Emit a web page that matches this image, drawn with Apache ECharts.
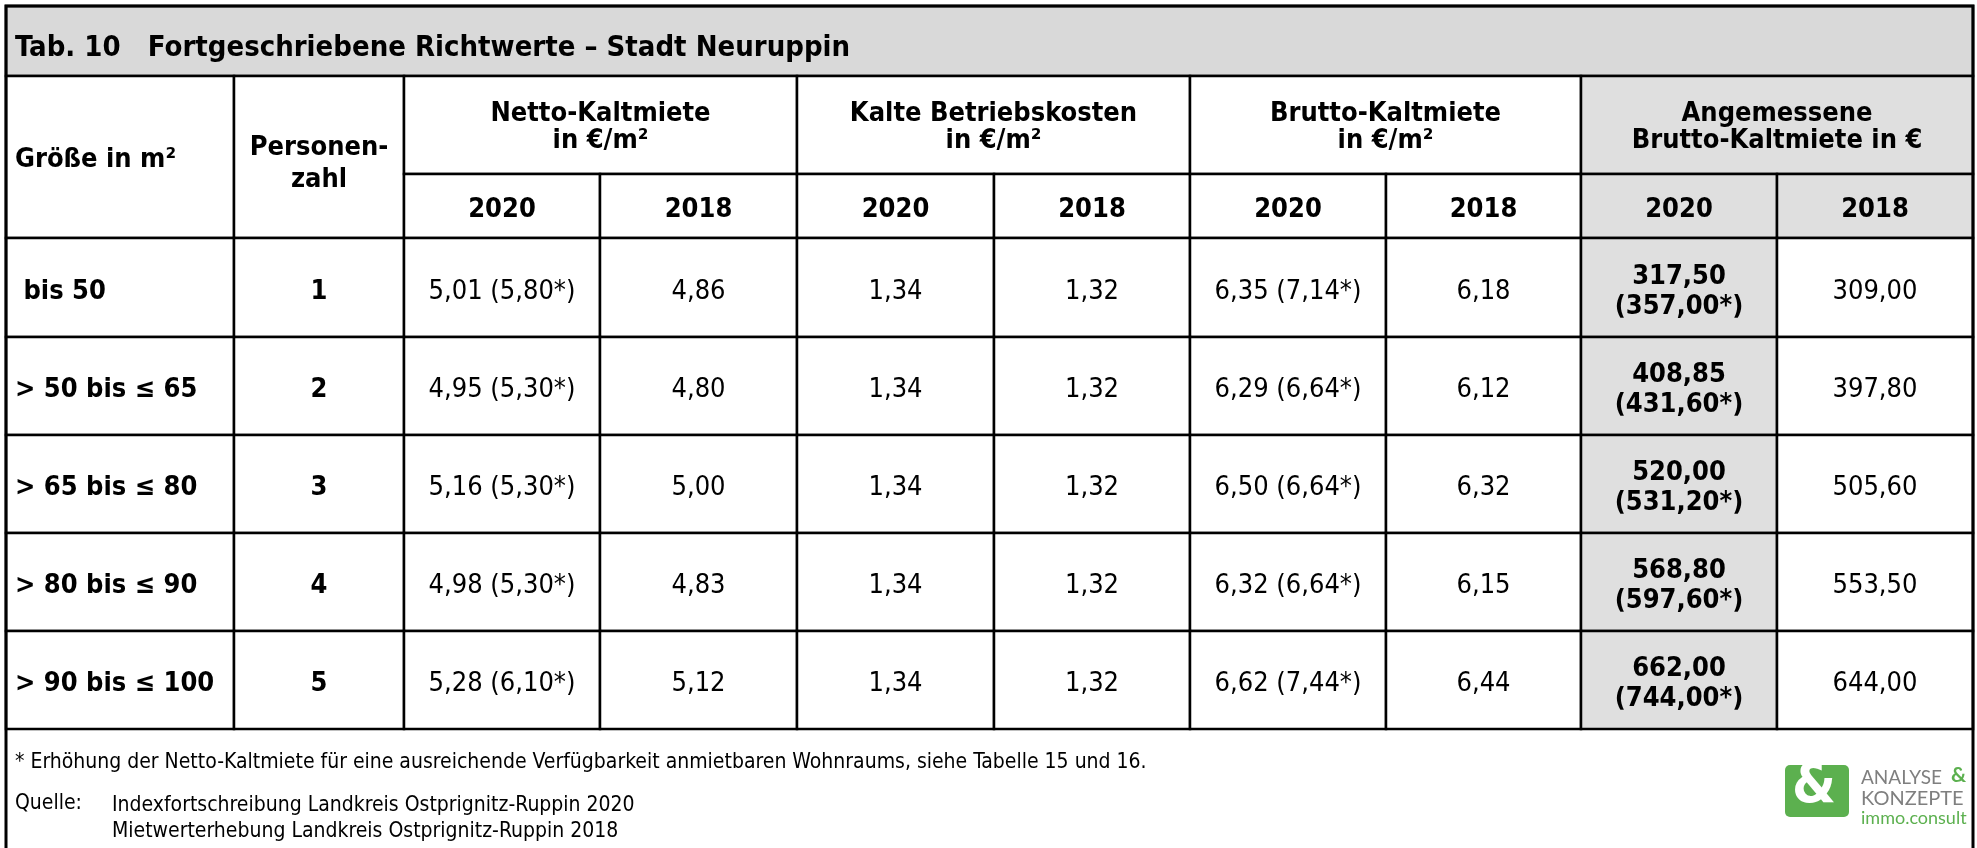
<!DOCTYPE html>
<html>
<head>
<meta charset="utf-8">
<title>Tab. 10 Fortgeschriebene Richtwerte – Stadt Neuruppin</title>
<script src="https://cdn.jsdelivr.net/npm/echarts@6/dist/echarts.min.js"></script>
<style>
    html, body { margin: 0; padding: 0; background: #fff; }
    #main { width: 1977px; height: 848px; }
</style>
</head>
<body>
<div id="main"></div>
<script>
// table content
const title = "Tab. 10   Fortgeschriebene Richtwerte – Stadt Neuruppin";
const groupHeaders = [
    "Netto-Kaltmiete\nin €/m²",
    "Kalte Betriebskosten\nin €/m²",
    "Brutto-Kaltmiete\nin €/m²",
    "Angemessene\nBrutto-Kaltmiete in €",
];
const years = ["2020", "2018"];
const sizeLabels = [" bis 50", "> 50 bis ≤ 65", "> 65 bis ≤ 80", "> 80 bis ≤ 90", "> 90 bis ≤ 100"];
const persons = [1, 2, 3, 4, 5];

const netto2020 = [5.01, 4.95, 5.16, 4.98, 5.28];
const netto2020Raised = [5.80, 5.30, 5.30, 5.30, 6.10];
const netto2018 = [4.86, 4.80, 5.00, 4.83, 5.12];
const betrieb2020 = [1.34, 1.34, 1.34, 1.34, 1.34];
const betrieb2018 = [1.32, 1.32, 1.32, 1.32, 1.32];
const brutto2020 = [6.35, 6.29, 6.50, 6.32, 6.62];
const brutto2020Raised = [7.14, 6.64, 6.64, 6.64, 7.44];
const brutto2018 = [6.18, 6.12, 6.32, 6.15, 6.44];
const angem2020 = [317.50, 408.85, 520.00, 568.80, 662.00];
const angem2020Raised = [357.00, 431.60, 531.20, 597.60, 744.00];
const angem2018 = [309.00, 397.80, 505.60, 553.50, 644.00];

const footnote = "* Erhöhung der Netto-Kaltmiete für eine ausreichende Verfügbarkeit anmietbaren Wohnraums, siehe Tabelle 15 und 16.";
const sourceLabel = "Quelle:";
const sources = [
    "Indexfortschreibung Landkreis Ostprignitz-Ruppin 2020",
    "Mietwerterhebung Landkreis Ostprignitz-Ruppin 2018",
];

// layout (pixel grid of the table)
const colEdges = [6, 234, 404, 600, 797, 994, 1190, 1386, 1581, 1777, 1973];
const rowEdges = [6, 76, 174, 238, 337, 435, 533, 631, 729, 852];
const FONT = '"DejaVu Sans Condensed", "DejaVu Sans", Tahoma, sans-serif';
const LOGO_FONT = "Lato, sans-serif";
const GREY_TITLE = "#d9d9d9";
const GREY_CELL = "#dfdfdf";
const GREEN = "#5cb04f";

const fmt = (v) => v.toFixed(2).replace(".", ",");

const cells = [];
function cell(c0, c1, r0, r1, text, opts) {
    cells.push(Object.assign({
        x0: colEdges[c0], x1: colEdges[c1], y0: rowEdges[r0], y1: rowEdges[r1],
        text: text, bold: false, fill: "#fff", align: "center", size: 27, lh: 30, lw: 2.5, dy: 4,
    }, opts || {}));
}

cell(0, 10, 0, 1, title, { bold: true, fill: GREY_TITLE, align: "left", size: 29, dy: 7 });
cell(0, 1, 1, 3, "Größe in m²", { bold: true, align: "left", dy: 3 });
cell(1, 2, 1, 3, "Personen-\nzahl", { bold: true, lh: 32, dy: 7 });
groupHeaders.forEach((g, i) => {
    const grey = i === 3;
    cell(2 + i * 2, 4 + i * 2, 1, 2, g, { bold: true, lh: 27, dy: 2, fill: grey ? GREY_CELL : "#fff" });
    years.forEach((y, j) => {
        cell(2 + i * 2 + j, 3 + i * 2 + j, 2, 3, y, { bold: true, fill: grey ? GREY_CELL : "#fff" });
    });
});

sizeLabels.forEach((label, i) => {
    const r = 3 + i;
    cell(0, 1, r, r + 1, label, { bold: true, align: "left" });
    cell(1, 2, r, r + 1, String(persons[i]), { bold: true });
    cell(2, 3, r, r + 1, fmt(netto2020[i]) + " (" + fmt(netto2020Raised[i]) + "*)");
    cell(3, 4, r, r + 1, fmt(netto2018[i]));
    cell(4, 5, r, r + 1, fmt(betrieb2020[i]));
    cell(5, 6, r, r + 1, fmt(betrieb2018[i]));
    cell(6, 7, r, r + 1, fmt(brutto2020[i]) + " (" + fmt(brutto2020Raised[i]) + "*)");
    cell(7, 8, r, r + 1, fmt(brutto2018[i]));
    cell(8, 9, r, r + 1, fmt(angem2020[i]) + "\n(" + fmt(angem2020Raised[i]) + "*)", { bold: true, fill: GREY_CELL });
    cell(9, 10, r, r + 1, fmt(angem2018[i]));
});

// outer frame
cell(0, 10, 0, 9, "", { fill: "none", lw: 3 });

const chart = echarts.init(document.getElementById("main"), null, { renderer: "canvas" });

const option = {
    backgroundColor: "#ffffff",
    animation: false,
    grid: { left: 0, right: 0, top: 0, bottom: 0 },
    xAxis: { type: "value", min: 0, max: 1977, show: false },
    yAxis: { type: "value", min: 0, max: 848, inverse: true, show: false },
    series: [
        {
            type: "custom",
            coordinateSystem: "cartesian2d",
            silent: true,
            clip: false,
            data: cells.map((c) => [c.x0, c.y0, c.x1, c.y1]),
            renderItem: function (params, api) {
                const c = cells[params.dataIndex];
                const p0 = api.coord([api.value(0), api.value(1)]);
                const p1 = api.coord([api.value(2), api.value(3)]);
                const children = [
                    {
                        type: "rect",
                        shape: { x: p0[0], y: p0[1], width: p1[0] - p0[0], height: p1[1] - p0[1] },
                        style: { fill: c.fill, stroke: "#000", lineWidth: c.lw },
                    },
                ];
                if (c.text) {
                    children.push({
                        type: "text",
                        style: {
                            text: c.text,
                            x: c.align === "left" ? p0[0] + 9 : (p0[0] + p1[0]) / 2,
                            y: (p0[1] + p1[1]) / 2 + c.dy,
                            align: c.align,
                            verticalAlign: "middle",
                            fontFamily: FONT,
                            fontSize: c.size,
                            fontWeight: c.bold ? "bold" : "normal",
                            lineHeight: c.lh,
                            fill: "#000",
                        },
                    });
                }
                return { type: "group", children: children };
            },
        },
    ],
    graphic: [
        { type: "text", left: 15, top: 752, style: { text: footnote, font: "21px " + FONT, fill: "#000" } },
        { type: "text", left: 15, top: 793, style: { text: sourceLabel, font: "21px " + FONT, fill: "#000" } },
        { type: "text", left: 112, top: 793, style: { text: sources.join("\n"), font: "21px " + FONT, lineHeight: 26, fill: "#000" } },
        // logo
        { type: "rect", left: 1785, top: 765, shape: { width: 64, height: 52, r: 5 }, style: { fill: GREEN } },
        { type: "text", left: 1792, top: 759, style: { text: "&", font: "bold 56px " + FONT, fill: "#fff" } },
        { type: "text", left: 1861, top: 768, style: { text: "ANALYSE", font: "19px " + LOGO_FONT, fill: "#7f7f7f" } },
        { type: "text", left: 1951, top: 765, style: { text: "&", font: "bold 21px " + LOGO_FONT, fill: GREEN } },
        { type: "text", left: 1861, top: 789, style: { text: "KONZEPTE", font: "20px " + LOGO_FONT, fill: "#7f7f7f" } },
        { type: "text", left: 1861, top: 809, style: { text: "immo.consult", font: "18px " + LOGO_FONT, fill: GREEN } },
    ],
};

chart.setOption(option);
</script>
</body>
</html>
